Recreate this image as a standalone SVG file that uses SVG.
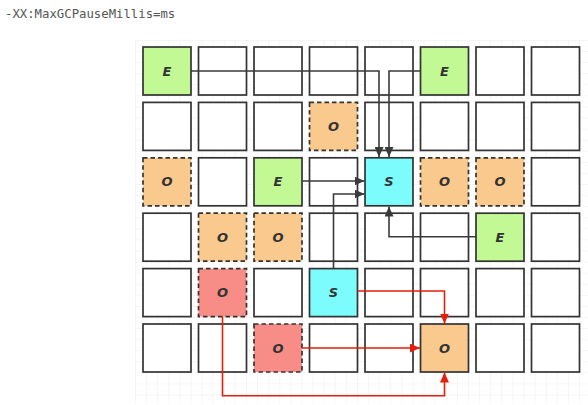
<svg xmlns="http://www.w3.org/2000/svg" width="588" height="405" viewBox="0 0 588 405">
<style>
.cell{stroke:#333;stroke-width:1.7}
.blank{fill:#fff}
.e{fill:#c3f995}
.o{fill:#f9c98e}
.s{fill:#7dfcfd}
.r{fill:#f88d87}
.d{stroke-dasharray:4.5 3}
.lbl{font-family:"DejaVu Sans","Liberation Sans",sans-serif;font-weight:bold;font-style:italic;font-size:13px;fill:#333;text-anchor:middle;dominant-baseline:central}
.k{fill:none;stroke:#3a3a3a;stroke-width:1.6}
.rd{fill:none;stroke:#e41e0b;stroke-width:1.6}
</style>
<defs>
<pattern id="grid" x="135" y="40" width="11.1" height="11.08" patternUnits="userSpaceOnUse">
<path d="M0 0H11.1M0 0V11.08" fill="none" stroke="#e8e8e8" stroke-width="0.8"/>
</pattern>
<marker id="ak" viewBox="0 0 10 9" refX="10" refY="4.5" markerWidth="10" markerHeight="9" markerUnits="userSpaceOnUse" orient="auto"><path d="M0 0L10 4.5L0 9Z" fill="#3a3a3a"/></marker>
<marker id="ar" viewBox="0 0 10 9" refX="10" refY="4.5" markerWidth="10" markerHeight="9" markerUnits="userSpaceOnUse" orient="auto"><path d="M0 0L10 4.5L0 9Z" fill="#e41e0b"/></marker>
</defs>
<rect width="588" height="405" fill="#fff"/>
<rect x="135" y="40" width="453" height="363" fill="url(#grid)"/>
<text x="5" y="18" font-family="'DejaVu Sans Mono','Liberation Mono',monospace" font-size="12.3" fill="#555">-XX:MaxGCPauseMillis=ms</text>

<g id="row0">
<g id="c0-0"><rect class="cell e" x="143" y="47" width="48" height="48"/><text class="lbl" x="167" y="71">E</text></g>
<g id="c0-1"><rect class="cell blank" x="198.5" y="47" width="48" height="48"/></g>
<g id="c0-2"><rect class="cell blank" x="254" y="47" width="48" height="48"/></g>
<g id="c0-3"><rect class="cell blank" x="309.5" y="47" width="48" height="48"/></g>
<g id="c0-4"><rect class="cell blank" x="365" y="47" width="48" height="48"/></g>
<g id="c0-5"><rect class="cell e" x="420.5" y="47" width="48" height="48"/><text class="lbl" x="444.5" y="71">E</text></g>
<g id="c0-6"><rect class="cell blank" x="476" y="47" width="48" height="48"/></g>
<g id="c0-7"><rect class="cell blank" x="531.5" y="47" width="48" height="48"/></g>
</g>
<g id="row1">
<g id="c1-0"><rect class="cell blank" x="143" y="102.4" width="48" height="48"/></g>
<g id="c1-1"><rect class="cell blank" x="198.5" y="102.4" width="48" height="48"/></g>
<g id="c1-2"><rect class="cell blank" x="254" y="102.4" width="48" height="48"/></g>
<g id="c1-3"><rect class="cell o d" x="309.5" y="102.4" width="48" height="48"/><text class="lbl" x="333.5" y="126.4">O</text></g>
<g id="c1-4"><rect class="cell blank" x="365" y="102.4" width="48" height="48"/></g>
<g id="c1-5"><rect class="cell blank" x="420.5" y="102.4" width="48" height="48"/></g>
<g id="c1-6"><rect class="cell blank" x="476" y="102.4" width="48" height="48"/></g>
<g id="c1-7"><rect class="cell blank" x="531.5" y="102.4" width="48" height="48"/></g>
</g>
<g id="row2">
<g id="c2-0"><rect class="cell o d" x="143" y="157.8" width="48" height="48"/><text class="lbl" x="167" y="181.8">O</text></g>
<g id="c2-1"><rect class="cell blank" x="198.5" y="157.8" width="48" height="48"/></g>
<g id="c2-2"><rect class="cell e" x="254" y="157.8" width="48" height="48"/><text class="lbl" x="278" y="181.8">E</text></g>
<g id="c2-3"><rect class="cell blank" x="309.5" y="157.8" width="48" height="48"/></g>
<g id="c2-4"><rect class="cell s" x="365" y="157.8" width="48" height="48"/><text class="lbl" x="389" y="181.8">S</text></g>
<g id="c2-5"><rect class="cell o d" x="420.5" y="157.8" width="48" height="48"/><text class="lbl" x="444.5" y="181.8">O</text></g>
<g id="c2-6"><rect class="cell o d" x="476" y="157.8" width="48" height="48"/><text class="lbl" x="500" y="181.8">O</text></g>
<g id="c2-7"><rect class="cell blank" x="531.5" y="157.8" width="48" height="48"/></g>
</g>
<g id="row3">
<g id="c3-0"><rect class="cell blank" x="143" y="213.2" width="48" height="48"/></g>
<g id="c3-1"><rect class="cell o d" x="198.5" y="213.2" width="48" height="48"/><text class="lbl" x="222.5" y="237.2">O</text></g>
<g id="c3-2"><rect class="cell o d" x="254" y="213.2" width="48" height="48"/><text class="lbl" x="278" y="237.2">O</text></g>
<g id="c3-3"><rect class="cell blank" x="309.5" y="213.2" width="48" height="48"/></g>
<g id="c3-4"><rect class="cell blank" x="365" y="213.2" width="48" height="48"/></g>
<g id="c3-5"><rect class="cell blank" x="420.5" y="213.2" width="48" height="48"/></g>
<g id="c3-6"><rect class="cell e" x="476" y="213.2" width="48" height="48"/><text class="lbl" x="500" y="237.2">E</text></g>
<g id="c3-7"><rect class="cell blank" x="531.5" y="213.2" width="48" height="48"/></g>
</g>
<g id="row4">
<g id="c4-0"><rect class="cell blank" x="143" y="268.6" width="48" height="48"/></g>
<g id="c4-1"><rect class="cell r d" x="198.5" y="268.6" width="48" height="48"/><text class="lbl" x="222.5" y="292.6">O</text></g>
<g id="c4-2"><rect class="cell blank" x="254" y="268.6" width="48" height="48"/></g>
<g id="c4-3"><rect class="cell s" x="309.5" y="268.6" width="48" height="48"/><text class="lbl" x="333.5" y="292.6">S</text></g>
<g id="c4-4"><rect class="cell blank" x="365" y="268.6" width="48" height="48"/></g>
<g id="c4-5"><rect class="cell blank" x="420.5" y="268.6" width="48" height="48"/></g>
<g id="c4-6"><rect class="cell blank" x="476" y="268.6" width="48" height="48"/></g>
<g id="c4-7"><rect class="cell blank" x="531.5" y="268.6" width="48" height="48"/></g>
</g>
<g id="row5">
<g id="c5-0"><rect class="cell blank" x="143" y="324" width="48" height="48"/></g>
<g id="c5-1"><rect class="cell blank" x="198.5" y="324" width="48" height="48"/></g>
<g id="c5-2"><rect class="cell r d" x="254" y="324" width="48" height="48"/><text class="lbl" x="278" y="348">O</text></g>
<g id="c5-3"><rect class="cell blank" x="309.5" y="324" width="48" height="48"/></g>
<g id="c5-4"><rect class="cell blank" x="365" y="324" width="48" height="48"/></g>
<g id="c5-5"><rect class="cell o" x="420.5" y="324" width="48" height="48"/><text class="lbl" x="444.5" y="348">O</text></g>
<g id="c5-6"><rect class="cell blank" x="476" y="324" width="48" height="48"/></g>
<g id="c5-7"><rect class="cell blank" x="531.5" y="324" width="48" height="48"/></g>
</g>

<g id="connectors">
<path class="k" d="M191 71H379V157" marker-end="url(#ak)"/>
<path class="k" d="M420.5 71H389V157" marker-end="url(#ak)"/>
<path class="k" d="M302 181H364.5" marker-end="url(#ak)"/>
<path class="k" d="M333.5 268.6V194H364.5" marker-end="url(#ak)"/>
<path class="k" d="M476 236.7H389V206.5" marker-end="url(#ak)"/>
<path class="rd" d="M357.5 291H444.5V323.5" marker-end="url(#ar)"/>
<path class="rd" d="M302 348H420" marker-end="url(#ar)"/>
<path class="rd" d="M222.5 316.6V395.7H444.5V372.5" marker-end="url(#ar)"/>
</g>
</svg>
